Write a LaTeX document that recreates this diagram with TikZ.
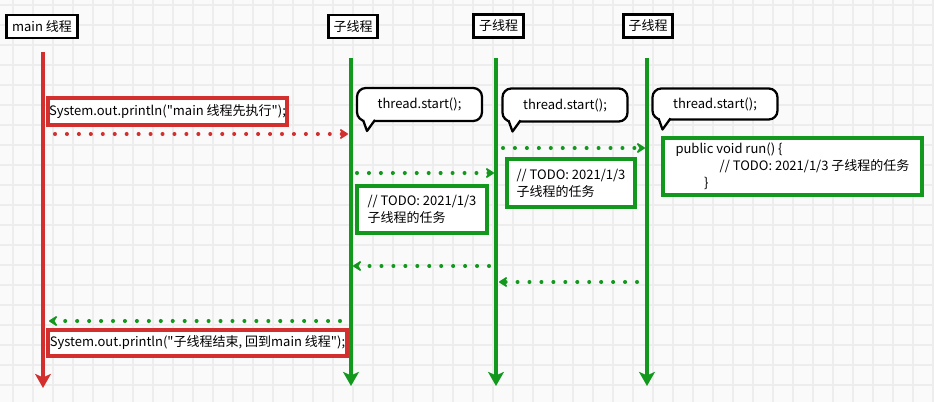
\documentclass[tikz,border=0pt]{standalone}
\usepackage{fontspec}
\setmainfont{Noto Sans CJK SC}[Ligatures=TeXOff]
\usetikzlibrary{arrows.meta,calc}
\definecolor{codered}{HTML}{D32F2F}
\definecolor{codegreen}{HTML}{12981C}
\definecolor{paper}{HTML}{FAFAFA}
\definecolor{gridline}{HTML}{EDEDED}
\newcommand{\codefont}{\fontsize{7.4}{9.8}\selectfont}

\begin{document}
\begin{tikzpicture}[x=0.02cm, y=-0.02cm,
    headbox/.style={draw, line width=1.6pt, fill=white, minimum height=0.46cm, inner xsep=3pt, inner ysep=0pt, font=\codefont},
    redbox/.style={draw=codered, line width=2pt, fill=white, inner sep=0pt, font=\codefont},
    greenbox/.style={draw=codegreen, line width=2pt, fill=white, inner sep=0pt, align=left, font=\codefont},
    bubble/.style={draw, line width=1.3pt, fill=white, rounded corners=5pt, outer sep=0pt, minimum width=2.5cm, minimum height=0.66cm, inner sep=0pt, font=\codefont},
    tail/.style={line width=1.3pt, line join=round},
    lifeline/.style={line width=2pt, -{Stealth[length=8pt, width=9pt, inset=2pt]}},
    msg/.style={line width=2.3pt, line cap=round, dash pattern=on 0pt off 6.8pt, -{Stealth[length=6pt, width=7.5pt, inset=2.5pt, round]}},
  ]
    \useasboundingbox (0,0) rectangle (934,402);
    \fill[paper] (0,0) rectangle (934,402);
    \foreach \x in {13,53,...,933} \draw[gridline, line width=0.6pt] (\x,0) -- (\x,402);
    \foreach \x in {33,73,...,933} \draw[gridline, line width=1.1pt] (\x,0) -- (\x,402);
    \foreach \y in {5,45,...,402} \draw[gridline, line width=0.6pt] (0,\y) -- (934,\y);
    \foreach \y in {25,65,...,402} \draw[gridline, line width=1.1pt] (0,\y) -- (934,\y);

    \node[headbox] (main_head) at (42,26.5) {main 线程};
    \node[headbox] (sub_head_a) at (353,26.5) {子线程};
    \node[headbox] (sub_head_b) at (498.5,26) {子线程};
    \node[headbox] (sub_head_c) at (648,26) {子线程};

    \coordinate (main_top) at (43,52);
    \coordinate (main_end) at (43,388);
    \coordinate (sub_a_top) at (351,58);
    \coordinate (sub_a_end) at (351,386);
    \coordinate (sub_b_top) at (496,58);
    \coordinate (sub_b_end) at (496,386);
    \coordinate (sub_c_top) at (647,58);
    \coordinate (sub_c_end) at (647,386);

    \draw[lifeline, codered] (main_top) -- (main_end);
    \draw[lifeline, codegreen] (sub_a_top) -- (sub_a_end);
    \draw[lifeline, codegreen] (sub_b_top) -- (sub_b_end);
    \draw[lifeline, codegreen] (sub_c_top) -- (sub_c_end);

    \coordinate (main_to_a_start) at (55,134);
    \coordinate (main_to_a_end) at (348,134);
    \coordinate (a_to_b_start) at (357,173);
    \coordinate (a_to_b_end) at (494,173);
    \coordinate (b_to_c_start) at (503,148);
    \coordinate (b_to_c_end) at (645,148);
    \coordinate (b_to_a_start) at (489,266);
    \coordinate (b_to_a_end) at (353,266);
    \coordinate (c_to_b_start) at (637,282);
    \coordinate (c_to_b_end) at (499,282);
    \coordinate (a_to_main_start) at (340,321);
    \coordinate (a_to_main_end) at (49,321);

    \draw[msg, codered] (main_to_a_start) -- (main_to_a_end);
    \draw[msg, codegreen] (a_to_b_start) -- (a_to_b_end);
    \draw[msg, codegreen] (b_to_c_start) -- (b_to_c_end);
    \draw[msg, codegreen] (b_to_a_start) -- (b_to_a_end);
    \draw[msg, codegreen] (c_to_b_start) -- (c_to_b_end);
    \draw[msg, codegreen] (a_to_main_start) -- (a_to_main_end);

    \node[redbox, minimum width=4.78cm, minimum height=0.54cm] (println_first) at (167.5,111.5) {System.out.println("main 线程先执行");};
    \node[redbox, minimum width=5.98cm, minimum height=0.52cm] (println_back) at (197.5,343) {System.out.println("子线程结束, 回到main 线程");};

    \node[greenbox, minimum width=2.6cm, minimum height=0.94cm] (task_a) at (422,209.5) {// TODO: 2021/1/3\\子线程的任务};
    \node[greenbox, minimum width=2.56cm, minimum height=0.96cm] (task_b) at (571,183) {// TODO: 2021/1/3\\子线程的任务};
    \node[greenbox, minimum width=5.18cm, minimum height=1.14cm] (task_c) at (792.5,166.5) {public void run() \{\\\hspace*{3.4em}// TODO: 2021/1/3 子线程的任务\\\hspace*{2.2em}\}};

    \node[bubble] (start_a) at (419.5,104.5) {thread.start();};
    \node[bubble] (start_b) at (565,105) {thread.start();};
    \node[bubble, minimum height=0.62cm] (start_c) at (715,104) {thread.start();};

    \foreach \b in {start_a,start_b,start_c} {
      \fill[white] ($(\b.south west)+(6,-2)$) -- ($(\b.south west)+(10,10)$) -- ($(\b.south west)+(18,-2)$) -- cycle;
      \draw[tail] ($(\b.south west)+(6,-1.1)$) -- ($(\b.south west)+(10,10)$) -- ($(\b.south west)+(18,-1.1)$);
    }
\end{tikzpicture}
\end{document}
